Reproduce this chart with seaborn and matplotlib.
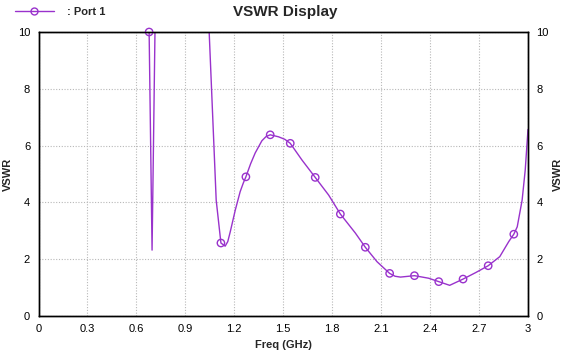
import matplotlib
matplotlib.use("Agg")
import matplotlib.pyplot as plt
from matplotlib.lines import Line2D
import seaborn as sns
import pandas as pd

# Frequency (GHz) and VSWR (values > 10 are off-scale)
freq = [0.0, 0.30, 0.60, 0.678, 0.696, 0.715, 0.80, 0.95, 1.046, 1.089, 1.118, 1.144,
        1.160, 1.175, 1.206, 1.236, 1.255, 1.271, 1.300, 1.328, 1.369, 1.395, 1.420,
        1.471, 1.510, 1.543, 1.615, 1.696, 1.778, 1.850, 1.942, 2.003, 2.075, 2.152,
        2.185, 2.218, 2.304, 2.391, 2.453, 2.520, 2.602, 2.680, 2.756, 2.827, 2.882,
        2.913, 2.934, 2.964, 2.983, 3.000]
vswr = [60.0, 40.0, 25.0, 10.0, 2.32, 10.5, 40.0, 25.0, 10.0, 4.08, 2.57, 2.46,
        2.62, 2.96, 3.73, 4.38, 4.68, 4.90, 5.36, 5.74, 6.17, 6.32, 6.38,
        6.31, 6.22, 6.08, 5.49, 4.88, 4.26, 3.59, 2.92, 2.42, 1.91, 1.50,
        1.40, 1.37, 1.42, 1.33, 1.21, 1.08, 1.30, 1.53, 1.77, 2.09, 2.62,
        2.88, 3.14, 4.08, 5.14, 6.57]
marker_idx = [3, 10, 17, 22, 25, 27, 29, 31, 33, 36, 38, 40, 42, 45]

series_name = "Port 1"
title = "VSWR Display"
xlabel = "Freq (GHz)"
ylabel = "VSWR"
xticks = [0, 0.3, 0.6, 0.9, 1.2, 1.5, 1.8, 2.1, 2.4, 2.7, 3.0]
xtick_labels = ["0", "0.3", "0.6", "0.9", "1.2", "1.5", "1.8", "2.1", "2.4", "2.7", "3"]
yticks = [0, 2, 4, 6, 8, 10]

df = pd.DataFrame({"freq": freq, "vswr": vswr})
mk = df.iloc[marker_idx]

sns.set_theme(style="white")
plt.rcParams["font.family"] = ["Liberation Sans", "DejaVu Sans"]

color = "#9932CC"
fig = plt.figure(figsize=(5.69, 3.55), dpi=100)
ax = fig.add_axes([38.5 / 569, 1 - 316 / 355, (528 - 38.5) / 569, (316 - 32) / 355])

sns.lineplot(data=df, x="freq", y="vswr", ax=ax, color=color, linewidth=1.0,
             sort=False, estimator=None)
sns.scatterplot(data=mk, x="freq", y="vswr", ax=ax, marker="o", s=28,
                facecolor="none", edgecolor=color, linewidth=1.0, clip_on=False, zorder=5)

ax.set_xlim(0, 3)
ax.set_ylim(0, 10)
ax.set_xticks(xticks)
ax.set_xticklabels(xtick_labels)
ax.set_yticks(yticks)
ax.grid(True, color="#b8b8b8", linestyle=(0, (1, 1.5)), linewidth=0.8)
for s in ax.spines.values():
    s.set_color("black")
    s.set_linewidth(1.0)
ax.tick_params(axis="both", labelsize=8, colors="black", length=0, pad=6)

ax2 = ax.twinx()
ax2.set_ylim(0, 10)
ax2.set_yticks(yticks)
ax2.tick_params(axis="y", labelsize=8, colors="black", length=0, pad=6)
ax2.set_ylabel(ylabel, fontsize=8, fontweight="bold")
ax2.yaxis.set_label_coords((553 - 38.5) / 489.5, 0.5)
for s in ax2.spines.values():
    s.set_color("black")
    s.set_linewidth(1.0)

ax.set_xlabel(xlabel, fontsize=8, fontweight="bold", labelpad=4)
ax.set_ylabel(ylabel, fontsize=8, fontweight="bold")
ax.yaxis.set_label_coords((13 - 38.5) / 489.5, 0.5)

fig.text(285 / 569, 1 - 12 / 355, title, ha="center", va="center",
         fontsize=11, fontweight="bold")
handle = Line2D([0], [0], color=color, linewidth=1.0, marker="o", markersize=5,
                markerfacecolor="none", markeredgecolor=color)
fig.legend([handle], [": " + series_name], loc="center left",
           bbox_to_anchor=(5 / 569, 1 - 12 / 355), frameon=False,
           prop={"size": 8, "weight": "bold"}, handlelength=3.5, handletextpad=1.2)

fig.savefig("out.png", dpi=100)
